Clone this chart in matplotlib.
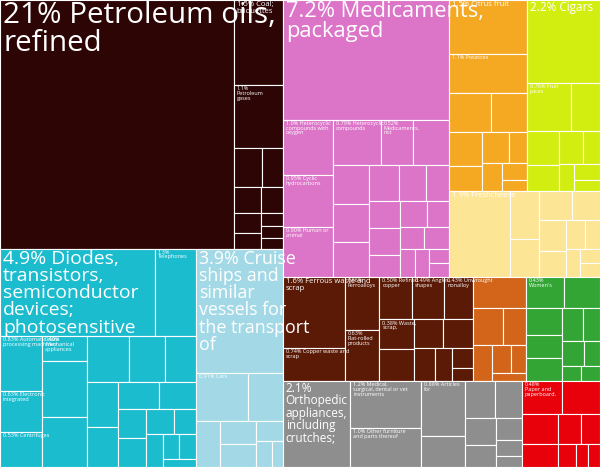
import numpy as np
import matplotlib
matplotlib.use("Agg")
import matplotlib.pyplot as plt
from matplotlib.patches import Rectangle

plt.rcParams['font.family'] = ['Liberation Sans Narrow', 'Open Sans', 'DejaVu Sans']

W, H = 600, 467

# sector values (% of exports) and labels, small unlabeled items after the labelled ones
mineral_vals = [21.0, 1.5, 1.1, 0.4, 0.3, 0.25, 0.2, 0.2, 0.15, 0.1, 0.1, 0.08]
mineral_labs = ["21% Petroleum oils,\nrefined", "1.5% Coal;\nbriquettes", "1.1%\nPetroleum\ngases"]
machine_vals = [4.9, 1.3, 0.83, 0.63, 0.53, 0.40, 0.9, 0.8, 0.7, 0.6, 0.5, 0.5, 0.45, 0.4,
                0.35, 0.3, 0.3, 0.25, 0.2, 0.2, 0.15, 0.15, 0.1]
machine_labs = ["4.9% Diodes,\ntransistors,\nsemiconductor\ndevices;\nphotosensitive", "1.3%\nTelephones",
                "0.83% Automatic data\nprocessing machines", "0.63% Electronic\nintegrated",
                "0.53% Centrifuges", "0.40%\nMechanical\nappliances"]
transport_vals = [3.9, 0.91, 0.6, 0.4, 0.3, 0.3, 0.2, 0.15, 0.1]
transport_labs = ["3.9% Cruise\nships and\nsimilar\nvessels for\nthe transport\nof", "0.91% Cars"]
chem_vals = [7.2, 1.0, 0.95, 0.90, 0.79, 0.52, 0.6, 0.5, 0.5, 0.45, 0.4, 0.35, 0.3, 0.3, 0.3,
             0.25, 0.25, 0.2, 0.2, 0.2, 0.15, 0.15, 0.1, 0.1]
chem_labs = ["7.2% Medicaments,\npackaged", "1.0% Heterocyclic\ncompounds with\noxygen",
             "0.95% Cyclic\nhydrocarbons", "0.90% Human or\nanimal", "0.79% Heterocyclic\ncompounds",
             "0.52%\nMedicaments,\nnot"]
veg_vals = [1.5, 1.1, 0.6, 0.5, 0.4, 0.3, 0.3, 0.2, 0.2, 0.15, 0.1]
veg_labs = ["1.5% Citrus fruit", "1.1% Potatoes"]
food_vals = [2.2, 0.76, 0.5, 0.4, 0.3, 0.3, 0.2, 0.15, 0.15, 0.1]
food_labs = ["2.2% Cigars", "0.76% Fruit\njuices"]
animal_vals = [1.9, 0.5, 0.4, 0.35, 0.3, 0.3, 0.25, 0.2, 0.15, 0.15, 0.1, 0.1]
animal_labs = ["1.9% Freshcheese"]
metal_vals = [1.6, 0.74, 0.66, 0.63, 0.50, 0.49, 0.43, 0.38, 0.4, 0.3, 0.3, 0.25, 0.2, 0.15, 0.1]
metal_labs = ["1.6% Ferrous waste and\nscrap", "0.74% Copper waste and\nscrap", "0.66%\nFerroalloys",
              "0.63%\nFlat-rolled\nproducts", "0.50% Refined\ncopper", "0.49% Angles,\nshapes",
              "0.43% Unwrought\nnonalloy", "0.38% Waste,\nscrap,"]
plastic_vals = [0.6, 0.4, 0.3, 0.25, 0.2, 0.15, 0.1]
plastic_labs = []
textile_vals = [0.43, 0.4, 0.35, 0.3, 0.3, 0.25, 0.2, 0.2, 0.15, 0.1, 0.1]
textile_labs = ["0.43%\nWomen's"]
instr_vals = [2.1, 1.2, 1.0, 0.88, 0.5, 0.4, 0.35, 0.3, 0.25, 0.2, 0.15, 0.1]
instr_labs = ["2.1%\nOrthopedic\nappliances,\nincluding\ncrutches;", "1.2% Medical,\nsurgical, dental or vet\ninstruments",
              "1.0% Other furniture\nand parts thereof", "0.88% Articles\nfor"]
paper_vals = [0.48, 0.45, 0.4, 0.3, 0.25, 0.2, 0.15, 0.1, 0.1]
paper_labs = ["0.48%\nPaper and\npaperboard,"]

sectors = {
    'mineral': (mineral_vals, mineral_labs, '#2d0505'),
    'machine': (machine_vals, machine_labs, '#1cbccf'),
    'transport': (transport_vals, transport_labs, '#a3d9e6'),
    'chem': (chem_vals, chem_labs, '#dc74c8'),
    'veg': (veg_vals, veg_labs, '#f5a922'),
    'food': (food_vals, food_labs, '#d2ee10'),
    'animal': (animal_vals, animal_labs, '#fde596'),
    'metal': (metal_vals, metal_labs, '#5a1a05'),
    'plastic': (plastic_vals, plastic_labs, '#d2651a'),
    'textile': (textile_vals, textile_labs, '#33a534'),
    'instr': (instr_vals, instr_labs, '#8e8e8e'),
    'paper': (paper_vals, paper_labs, '#e8000b'),
}

# split tree: (direction, children); 'x' splits width, 'y' splits height
tree = ('x', [
    ('y', ['mineral', ('x', ['machine', 'transport'])]),
    ('y', [
        ('x', ['chem', ('y', [('x', ['veg', 'food']), 'animal'])]),
        ('y', [('x', ['metal', 'plastic', 'textile']), ('x', ['instr', 'paper'])]),
    ]),
])


def total(node):
    if isinstance(node, str):
        return sum(sectors[node][0])
    return sum(total(c) for c in node[1])


def worst(row, w):
    s = sum(row)
    return max(max(w * w * r / s ** 2, s ** 2 / (w * w * r)) for r in row)


def squarify(vals, x, y, w, h):
    scale = w * h / sum(vals)
    areas = [v * scale for v in vals]
    rects = []
    while areas:
        side = min(w, h)
        row = [areas.pop(0)]
        while areas and worst(row + [areas[0]], side) <= worst(row, side):
            row.append(areas.pop(0))
        s = sum(row)
        if w >= h:
            rw = s / h
            yy = y
            for a in row:
                rects.append((x, yy, rw, a / rw))
                yy += a / rw
            x += rw
            w -= rw
        else:
            rh = s / w
            xx = x
            for a in row:
                rects.append((xx, y, a / rh, rh))
                xx += a / rh
            y += rh
            h -= rh
    return rects


fig = plt.figure(figsize=(6, 4.67), dpi=100)
ax = fig.add_axes([0, 0, 1, 1])
ax.set_xlim(0, W)
ax.set_ylim(H, 0)
ax.axis('off')


def fsize(v):
    if v < 1.4:
        return 4.0
    if v < 2.0:
        return 5.5
    if v < 3.0:
        return 8.5
    return 4.0 + 5.6 * np.log(1 + v)


def draw(node, x, y, w, h):
    if isinstance(node, str):
        vals, labs, col = sectors[node]
        for i, (rx, ry, rw, rh) in enumerate(squarify(vals, x, y, w, h)):
            r = Rectangle((rx, ry), rw, rh, facecolor=col, edgecolor='white', lw=0.8)
            ax.add_patch(r)
            if i < len(labs):
                t = ax.text(rx + 3, ry + 1, labs[i], color='white', fontsize=fsize(vals[i]),
                            va='top', ha='left', linespacing=0.95)
                t.set_clip_path(r)
        return
    d, kids = node
    tot = total(node)
    for k in kids:
        f = total(k) / tot
        if d == 'x':
            draw(k, x, y, w * f, h)
            x += w * f
        else:
            draw(k, x, y, w, h * f)
            y += h * f


draw(tree, 0, 0, W, H)
fig.savefig('out.png', dpi=100)
